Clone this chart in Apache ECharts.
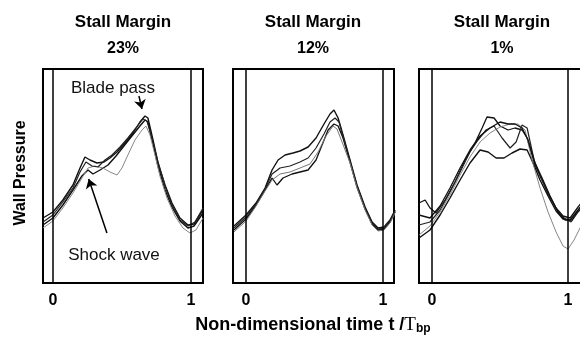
<!DOCTYPE html>
<html>
<head>
<meta charset="utf-8">
<script src="https://cdn.jsdelivr.net/npm/echarts@6/dist/echarts.min.js"></script>
<style>
  html, body { margin: 0; padding: 0; background: #fff; }
  #chart { width: 580px; height: 340px; }
</style>
</head>
<body>
<div id="chart"></div>
<script>
// pressure traces, [t/Tbp, wall pressure (arbitrary)]
// stall margin 23%
const sm23A = [[-0.072,65],[0,71],[0.072,83],[0.145,98],[0.196,115],[0.232,126],[0.268,123],[0.319,120],[0.37,121],[0.413,125],[0.464,131],[0.522,140],[0.58,150],[0.63,161],[0.667,167],[0.688,165],[0.725,143],[0.761,120],[0.812,98],[0.862,80],[0.92,65],[0.978,58],[1.022,59],[1.087,73]]
const sm23B = [[-0.072,58],[0,65],[0.072,78],[0.145,93],[0.21,107],[0.254,113],[0.29,109],[0.341,113],[0.399,118],[0.457,127],[0.514,137],[0.572,147],[0.63,157],[0.667,163],[0.688,161],[0.725,140],[0.761,117],[0.812,93],[0.862,76],[0.92,62],[0.978,55],[1.022,57],[1.087,70]]
const sm23C = [[-0.072,55],[0,62],[0.072,75],[0.145,90],[0.21,105],[0.254,115],[0.304,117],[0.362,115],[0.413,111],[0.464,108],[0.5,115],[0.543,128],[0.594,143],[0.645,153],[0.674,157],[0.703,148],[0.739,128],[0.775,107],[0.826,85],[0.884,67],[0.942,55],[0.993,50],[1.036,53],[1.087,65]]
const sm23D = [[-0.072,61],[0,68],[0.072,81],[0.145,95],[0.196,111],[0.239,121],[0.283,117],[0.326,116],[0.377,123],[0.428,128],[0.486,136],[0.543,145],[0.601,155],[0.652,164],[0.681,162],[0.717,145],[0.761,121],[0.812,97],[0.862,78],[0.92,63],[0.978,57],[1.029,61],[1.087,75]]
// stall margin 12%
const sm12A = [[-0.088,57],[0,68],[0.073,80],[0.139,95],[0.19,113],[0.234,123],[0.285,128],[0.343,130],[0.394,132],[0.453,136],[0.511,145],[0.569,159],[0.613,169],[0.642,173],[0.672,165],[0.708,148],[0.759,123],[0.81,98],[0.869,76],[0.92,61],[0.964,55],[1.007,56],[1.051,63],[1.088,73]]
const sm12B = [[-0.088,53],[0,64],[0.073,78],[0.139,93],[0.19,105],[0.226,98],[0.27,105],[0.336,109],[0.394,111],[0.453,113],[0.511,123],[0.555,138],[0.599,153],[0.642,159],[0.672,157],[0.708,145],[0.759,121],[0.81,96],[0.869,74],[0.92,59],[0.964,53],[1.007,54],[1.051,61],[1.088,71]]
const sm12C = [[-0.088,55],[0,66],[0.073,79],[0.139,94],[0.19,109],[0.248,115],[0.321,117],[0.394,121],[0.453,125],[0.511,135],[0.569,149],[0.613,161],[0.65,165],[0.679,161],[0.715,143],[0.759,122],[0.81,97],[0.869,75],[0.92,60],[0.964,54],[1.007,55],[1.051,62],[1.088,72]]
const sm12D = [[-0.088,51],[0,62],[0.073,77],[0.139,92],[0.19,103],[0.248,109],[0.321,111],[0.394,115],[0.467,119],[0.526,131],[0.584,147],[0.635,157],[0.664,154],[0.701,141],[0.759,120],[0.81,95],[0.869,73],[0.92,58],[0.964,52],[1.007,53],[1.051,60],[1.088,70]]
// stall margin 1%
const sm1A = [[-0.096,80],[-0.051,83],[-0.015,75],[0.029,70],[0.096,83],[0.169,101],[0.243,123],[0.316,140],[0.368,155],[0.404,166],[0.456,165],[0.5,157],[0.559,153],[0.61,155],[0.662,153],[0.699,145],[0.757,118],[0.809,103],[0.853,89],[0.912,75],[0.963,67],[1.015,65],[1.074,76],[1.125,85]]
const sm1B = [[-0.096,45],[-0.015,53],[0.059,68],[0.132,85],[0.206,103],[0.279,120],[0.353,133],[0.412,131],[0.471,125],[0.529,125],[0.588,130],[0.647,134],[0.699,133],[0.743,120],[0.794,103],[0.853,87],[0.912,72],[0.963,64],[1.015,63],[1.074,73],[1.125,81]]
const sm1C = [[-0.096,58],[-0.015,61],[0.059,73],[0.132,91],[0.206,111],[0.279,131],[0.338,143],[0.397,153],[0.456,157],[0.515,145],[0.574,135],[0.618,141],[0.662,158],[0.699,155],[0.75,123],[0.801,105],[0.86,88],[0.919,73],[0.971,65],[1.022,61],[1.074,71],[1.125,79]]
const sm1D = [[-0.096,48],[-0.015,57],[0.059,71],[0.132,88],[0.206,108],[0.279,126],[0.353,141],[0.426,150],[0.5,156],[0.574,159],[0.632,159],[0.684,153],[0.735,123],[0.794,95],[0.853,71],[0.912,51],[0.963,37],[1.0,34],[1.044,43],[1.088,55],[1.125,63]]
const sm1E = [[-0.096,68],[-0.015,65],[0.059,77],[0.132,95],[0.206,115],[0.279,133],[0.353,147],[0.426,155],[0.5,161],[0.559,159],[0.61,159],[0.662,155],[0.706,143],[0.757,120],[0.809,105],[0.868,87],[0.926,71],[0.978,63],[1.029,63],[1.081,74],[1.125,83]]

const panelTitles = ['23%', '12%', '1%']
const tickValues = [0, 1]

const font = '"Liberation Sans", Arial, sans-serif'

// 3 panels, the last one runs off the right edge
const grids = [
  { left: 43, top: 69, width: 160, height: 214 },
  { left: 233, top: 69, width: 161, height: 214 },
  { left: 419, top: 69, width: 167, height: 214 }
]
const xRanges = [[-0.072, 1.087], [-0.095, 1.08], [-0.096, 1.132]]
const titleX = [123, 313, 502]

const panels = [
  [[sm23A, '#111', 1.4], [sm23B, '#111', 1.4], [sm23C, '#888', 1], [sm23D, '#222', 1.2]],
  [[sm12A, '#111', 1.4], [sm12B, '#111', 1.3], [sm12C, '#222', 1.2], [sm12D, '#777', 1]],
  [[sm1A, '#111', 1.3], [sm1B, '#111', 1.4], [sm1C, '#222', 1.2], [sm1D, '#777', 0.9], [sm1E, '#111', 1.3]]
]

let chart = echarts.init(document.getElementById('chart'))

let series = []
panels.forEach(function (lines, i) {
  lines.forEach(function (l, j) {
    let s = {
      type: 'line',
      xAxisIndex: i,
      yAxisIndex: i,
      data: l[0],
      symbol: 'none',
      clip: true,
      lineStyle: { color: l[1], width: l[2] }
    }
    if (j === 0) {
      let ml = [{ xAxis: 0 }, { xAxis: 1 }]
      if (i === 0) {
        // arrows for the annotations
        ml.push([{ coord: [0.391, 50], symbol: 'none' }, { coord: [0.259, 104], symbol: 'arrow' }])
        ml.push([{ coord: [0.623, 187], symbol: 'none' }, { coord: [0.645, 174], symbol: 'arrow' }])
      }
      s.markLine = {
        silent: true,
        symbol: 'none',
        symbolSize: 9,
        label: { show: false },
        lineStyle: { color: '#000', width: 1.5, type: 'solid' },
        data: ml
      }
    }
    series.push(s)
  })
})

let graphic = []
titleX.forEach(function (cx, i) {
  graphic.push({ type: 'text', x: cx, y: 22, style: { text: 'Stall Margin', font: 'bold 17px ' + font, fill: '#000', textAlign: 'center', textVerticalAlign: 'middle' } })
  graphic.push({ type: 'text', x: cx, y: 49, style: { text: panelTitles[i], font: 'bold 16px ' + font, fill: '#000', textAlign: 'center', textVerticalAlign: 'middle' } })
})
graphic.push({ type: 'text', x: 21, y: 173, rotation: Math.PI / 2, style: { text: 'Wall Pressure', font: 'bold 16px ' + font, fill: '#000', textAlign: 'center', textVerticalAlign: 'middle' } })
graphic.push({ type: 'text', x: 113, y: 88, style: { text: 'Blade pass', font: '17px ' + font, fill: '#111', textAlign: 'center', textVerticalAlign: 'middle' } })
graphic.push({ type: 'text', x: 114, y: 255, style: { text: 'Shock wave', font: '17px ' + font, fill: '#111', textAlign: 'center', textVerticalAlign: 'middle' } })
graphic.push({
  type: 'text', x: 313, y: 325,
  style: {
    text: '{a|Non-dimensional time t /}{b|T}{c|bp}',
    textAlign: 'center', textVerticalAlign: 'middle',
    rich: {
      a: { font: 'bold 18px ' + font, fill: '#000' },
      b: { font: '19px "Liberation Serif", serif', fill: '#000' },
      c: { font: 'bold 12px ' + font, fill: '#000', padding: [8, 0, 0, 0] }
    }
  }
})

chart.setOption({
  animation: false,
  grid: grids.map(function (g) {
    return Object.assign({ show: true, borderColor: '#000', borderWidth: 2, backgroundColor: 'transparent', outerBoundsMode: 'none', containLabel: false }, g)
  }),
  xAxis: grids.map(function (g, i) {
    return {
      type: 'value',
      gridIndex: i,
      min: xRanges[i][0],
      max: xRanges[i][1],
      axisLine: { show: false },
      axisTick: { show: false },
      splitLine: { show: false },
      axisLabel: {
        customValues: tickValues,
        margin: 10,
        color: '#000',
        fontSize: 16,
        fontWeight: 'bold',
        fontFamily: font
      }
    }
  }),
  yAxis: grids.map(function (g, i) {
    return { type: 'value', gridIndex: i, min: 0, max: 214, show: false }
  }),
  graphic: graphic,
  series: series
})
</script>
</body>
</html>
